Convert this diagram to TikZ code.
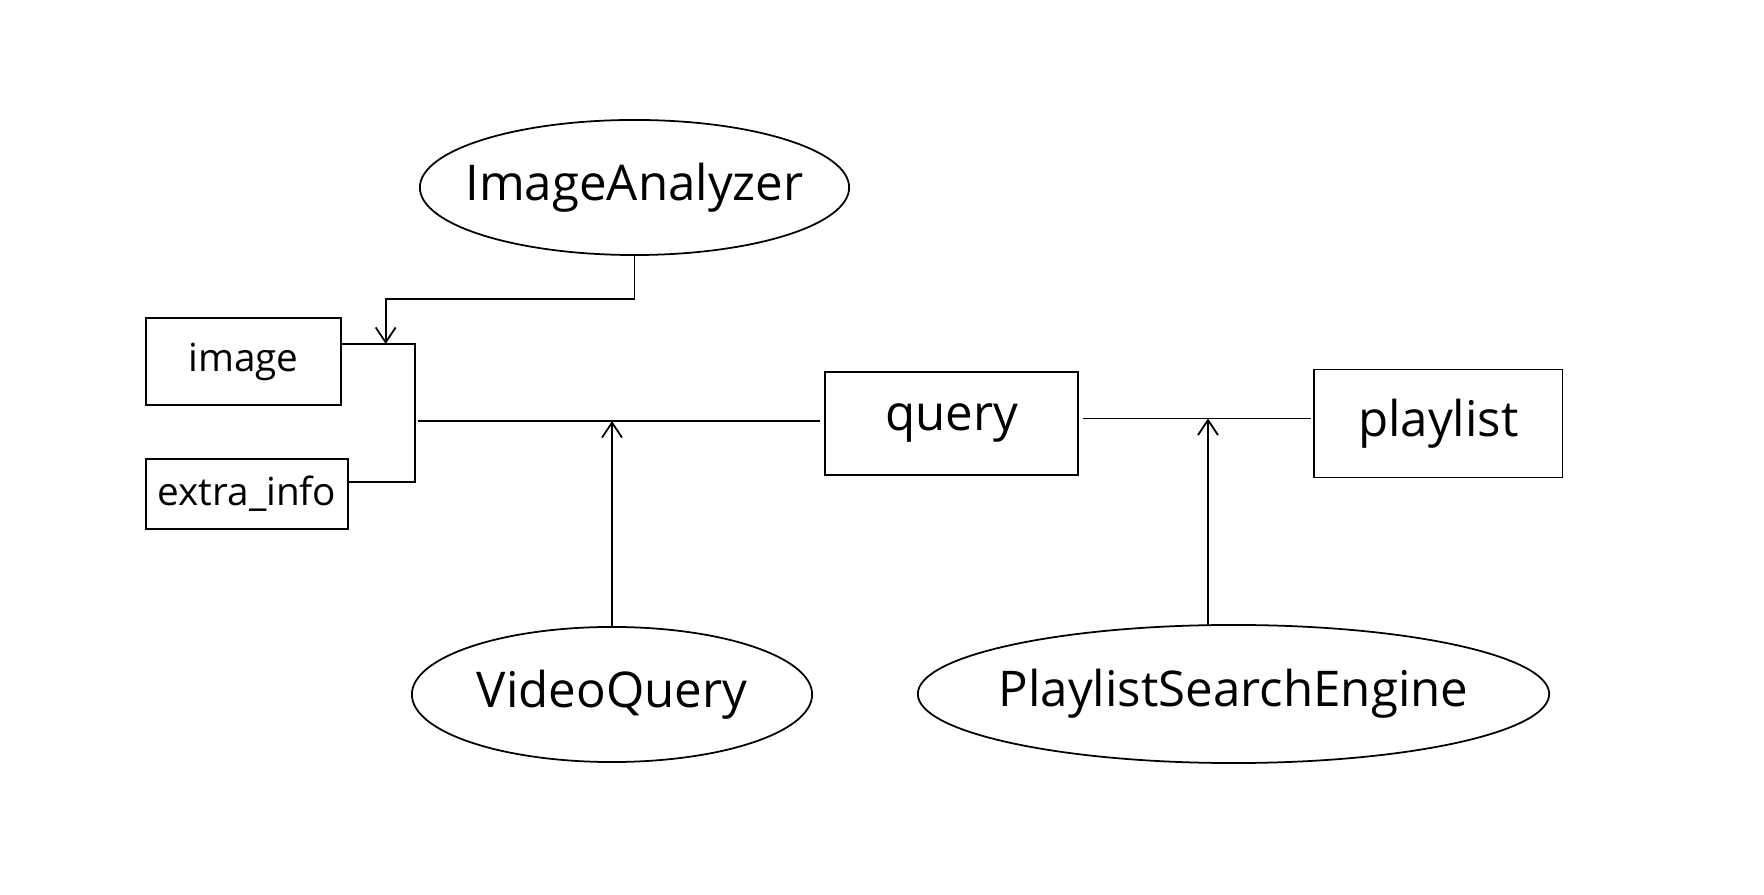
\documentclass[tikz,border=0pt]{standalone}
\usepackage{fontspec}
\setmainfont{Open Sans}
\usetikzlibrary{shapes.geometric,arrows.meta,positioning}

\begin{document}
\begin{tikzpicture}[x=0.01cm,y=-0.01cm,line width=0.5pt,
		every node/.style={outer sep=0pt},
		box/.style={draw,inner sep=0pt,font=\fontsize{14}{17}\selectfont},
		smallbox/.style={draw,inner sep=0pt,font=\fontsize{11}{13}\selectfont},
		module/.style={draw,ellipse,inner xsep=-1.5cm,inner ysep=0pt,font=\fontsize{14}{17}\selectfont},
		arr/.style={-{Straight Barb[length=1.5mm,width=2mm]}}]

		\useasboundingbox (0,0) rectangle (1764,895);

		\node[smallbox,minimum width=1.95cm,minimum height=0.87cm] (image) at (243.5,361.5) {image};
		\node[smallbox,minimum width=2.02cm,minimum height=0.70cm,below right=0.54cm and 0cm of image.south west] (extra) {extra\_info};
		\node[box,minimum width=2.53cm,minimum height=1.03cm] (query) at (951.5,423.5) {query};
		\node[box,minimum width=2.48cm,minimum height=1.08cm,right=2.36cm of query] (playlist) {playlist};

		\node[module,minimum width=4.29cm,minimum height=1.35cm] (analyzer) at (634.5,187.5) {ImageAnalyzer};
		\node[module,minimum width=4.00cm,minimum height=1.35cm] (video) at (612,694.5) {VideoQuery};
		\node[module,minimum width=6.31cm,minimum height=1.38cm] (engine) at (1233.5,694) {PlaylistSearchEngine};

		% inputs joined into one line
		\coordinate (join) at (414.7,421);
		\draw ([yshift=0.175cm]image.east) -| (join);
		\draw ([yshift=0.12cm]extra.east) -| (join);
		\draw ([xshift=0.03cm]join) -- ([xshift=-0.05cm]join -| query.west);
		\draw ([yshift=0.05cm,xshift=0.05cm]query.east) -- ([yshift=0.05cm,xshift=-0.03cm]playlist.west) coordinate[pos=0.55](aux2);

		\draw[arr] (analyzer.south) -- ++(0,44) -| ([xshift=-0.29cm,yshift=0.175cm]image.east -| join);
		\draw[arr] (video.north) -- (video.north |- join);
		\draw[arr] ([xshift=-0.255cm]engine.north) -- ([xshift=-0.255cm]engine.north |- aux2);

\end{tikzpicture}
\end{document}
